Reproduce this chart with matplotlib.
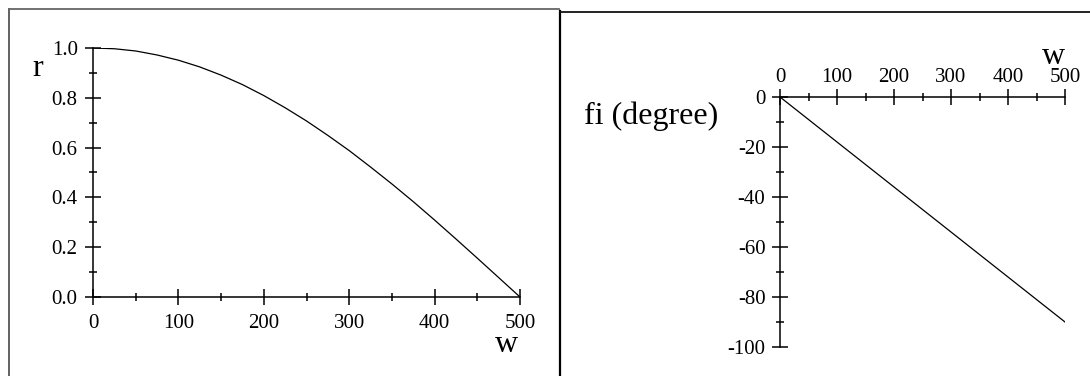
import matplotlib
matplotlib.use("Agg")
import matplotlib.pyplot as plt
from matplotlib.lines import Line2D
from matplotlib.ticker import MultipleLocator

plt.rcParams['font.family'] = ['Liberation Serif', 'DejaVu Serif']

# Amplitude response r(w)
w_amp = [0, 25, 50, 75, 100, 125, 150, 175, 200, 225, 250,
         275, 300, 325, 350, 375, 400, 425, 450, 475, 500]
r_vals = [1.000, 0.997, 0.988, 0.972, 0.951, 0.924, 0.891, 0.853, 0.809, 0.760, 0.707,
          0.649, 0.588, 0.522, 0.454, 0.383, 0.309, 0.233, 0.156, 0.078, 0.000]

# Phase response fi(w) in degrees
w_phase = [0, 500]
fi_vals = [0, -90]

x_ticks = [0, 100, 200, 300, 400, 500]
r_ticks = [0.0, 0.2, 0.4, 0.6, 0.8, 1.0]
fi_ticks = [-100, -80, -60, -40, -20, 0]

W, H = 1090, 376
fig = plt.figure(figsize=(W / 100, H / 100), dpi=100)


def fx(px):
    return px / W


def fy(py):
    return 1 - py / H


# Panel frames
fig.add_artist(Line2D([fx(8.8), fx(8.8)], [fy(9), fy(376)], color='#555555', lw=1.3))
fig.add_artist(Line2D([fx(8.8), fx(559)], [fy(9.2), fy(9.2)], color='#666666', lw=1.3))
fig.add_artist(Line2D([fx(559.7), fx(559.7)], [fy(11), fy(376)], color='black', lw=1.6))
fig.add_artist(Line2D([fx(559.7), fx(1090)], [fy(12.2), fy(12.2)], color='#111111', lw=1.3))

tick_font = 15
label_font = 23

# ---- Left: r vs w ----
ax1 = fig.add_axes([fx(93), fy(297), fx(520) - fx(93), fy(48) - fy(297)])
ax1.plot(w_amp, r_vals, color='black', lw=0.9)
ax1.set_xlim(0, 500)
ax1.set_ylim(0, 1.0)
for s in ('top', 'right'):
    ax1.spines[s].set_visible(False)
for s in ('left', 'bottom'):
    ax1.spines[s].set_linewidth(1.1)
ax1.set_xticks(x_ticks)
ax1.set_xticklabels([str(v) for v in x_ticks])
ax1.set_yticks(r_ticks)
ax1.set_yticklabels([f"{v:.1f}" for v in r_ticks])
ax1.xaxis.set_minor_locator(MultipleLocator(50))
ax1.yaxis.set_minor_locator(MultipleLocator(0.1))
ax1.tick_params(which='major', direction='inout', length=11, width=1.1,
                labelsize=tick_font)
ax1.tick_params(axis='x', which='major', pad=6.5)
ax1.tick_params(axis='y', which='major', pad=5.5)
ax1.tick_params(which='minor', direction='inout', length=6, width=1.1)
ax1.patch.set_alpha(0)

fig.text(fx(38), fy(68), 'r', fontsize=label_font, ha='center', va='center')
fig.text(fx(507), fy(345), 'w', fontsize=label_font, ha='center', va='center')

# ---- Right: fi vs w ----
ax2 = fig.add_axes([fx(780), fy(347), fx(1065) - fx(780), fy(97) - fy(347)])
ax2.plot(w_phase, fi_vals, color='black', lw=0.9)
ax2.set_xlim(0, 500)
ax2.set_ylim(-100, 0)
for s in ('bottom', 'right'):
    ax2.spines[s].set_visible(False)
for s in ('left', 'top'):
    ax2.spines[s].set_linewidth(1.1)
ax2.xaxis.tick_top()
ax2.set_xticks(x_ticks)
ax2.set_xticklabels([str(v) for v in x_ticks])
ax2.set_yticks(fi_ticks)
ax2.set_yticklabels([str(v) for v in fi_ticks])
ax2.xaxis.set_minor_locator(MultipleLocator(50))
ax2.yaxis.set_minor_locator(MultipleLocator(10))
ax2.tick_params(which='major', direction='inout', length=11, width=1.1,
                labelsize=tick_font)
ax2.tick_params(axis='x', which='major', pad=2)
ax2.tick_params(axis='y', which='major', pad=5)
ax2.tick_params(which='minor', direction='inout', length=6, width=1.1)
ax2.patch.set_alpha(0)

fig.text(fx(1054), fy(56), 'w', fontsize=label_font, ha='center', va='center')
fig.text(fx(651), fy(116), 'fi (degree)', fontsize=label_font, ha='center', va='center')

fig.savefig('out.png', dpi=100)
